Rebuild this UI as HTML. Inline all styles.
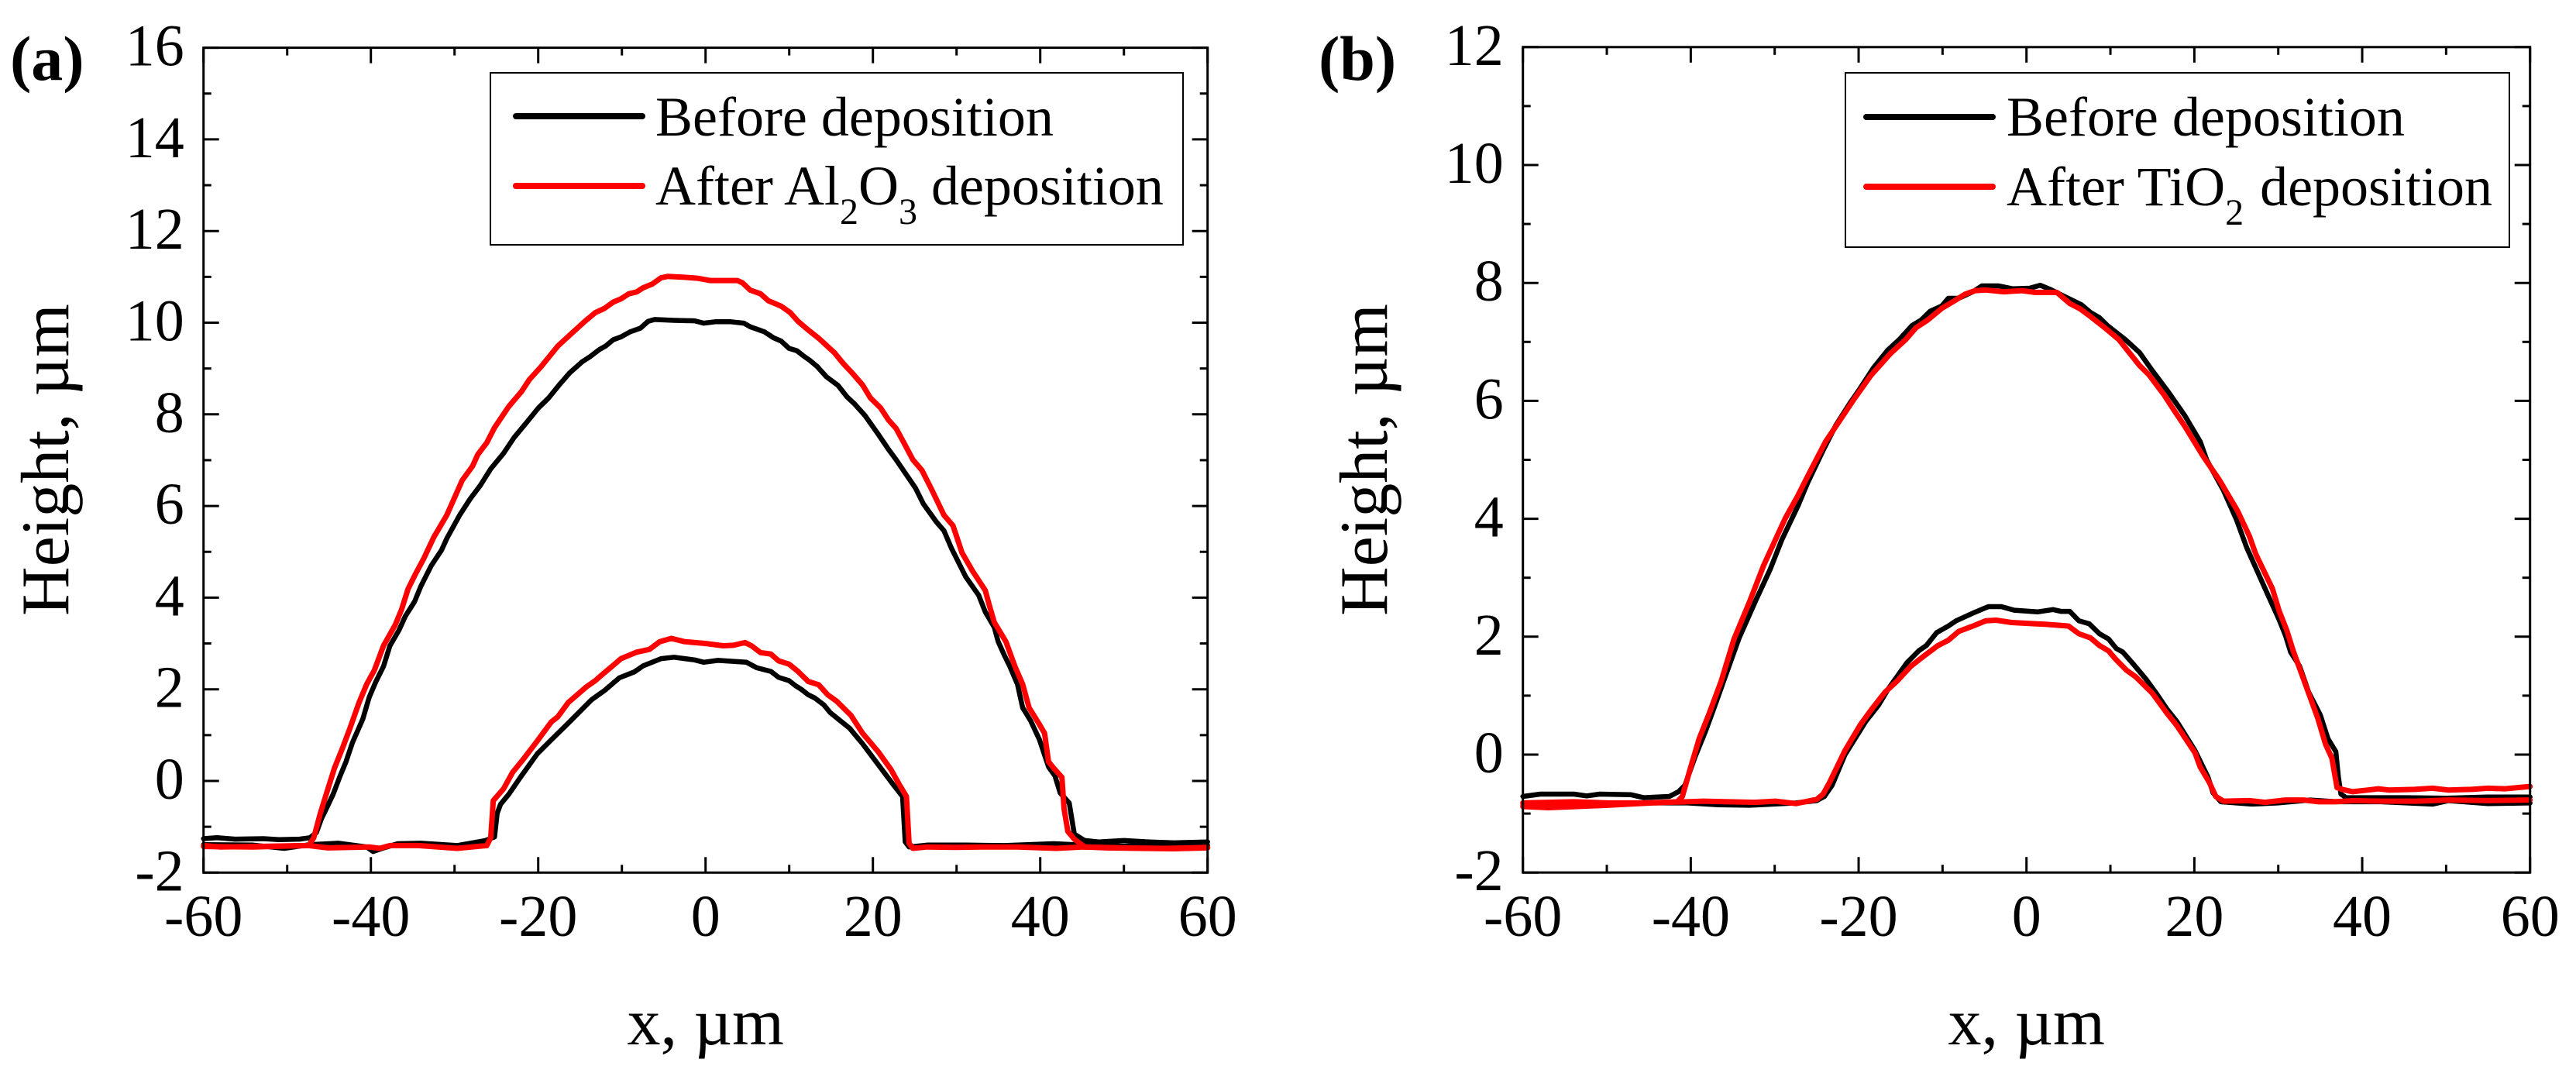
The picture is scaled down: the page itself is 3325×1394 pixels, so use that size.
<!DOCTYPE html>
<html lang="en">
<head>
<meta charset="utf-8">
<title>Height profiles before and after deposition</title>
<style>
html,body{margin:0;padding:0;background:#fff;}
svg{display:block;}
text{font-family:"Liberation Serif","Times New Roman",serif;fill:#000;}
</style>
</head>
<body>
<svg id="figure" xmlns="http://www.w3.org/2000/svg" width="3325" height="1394" viewBox="0 0 3325 1394">
<rect x="0" y="0" width="3325" height="1394" fill="#fff"/>
<text x="13" y="103" font-size="82" font-weight="bold">(a)</text>
<text x="1702" y="103" font-size="82" font-weight="bold">(b)</text>
<g id="panel-a"></g>
<g id="panel-b"></g>

<g>
<rect x="633" y="94" width="894" height="222" fill="#fff" stroke="#000" stroke-width="2"/>
<line x1="666" y1="150" x2="829" y2="150" stroke="#000" stroke-width="8" stroke-linecap="round"/>
<line x1="666" y1="240" x2="829" y2="240" stroke="#f00" stroke-width="8" stroke-linecap="round"/>
<text x="846" y="175" font-size="72">Before deposition</text>
<text x="846" y="264" font-size="72">After Al<tspan font-size="48" dy="25">2</tspan><tspan dy="-25">O</tspan><tspan font-size="48" dy="25">3</tspan><tspan dy="-25"> deposition</tspan></text>
</g>

<g>
<rect x="2382" y="94" width="857" height="225" fill="#fff" stroke="#000" stroke-width="2"/>
<line x1="2409" y1="151" x2="2572" y2="151" stroke="#000" stroke-width="8" stroke-linecap="round"/>
<line x1="2409" y1="241" x2="2572" y2="241" stroke="#f00" stroke-width="8" stroke-linecap="round"/>
<text x="2590" y="175" font-size="72">Before deposition</text>
<text x="2590" y="265" font-size="72">After TiO<tspan font-size="48" dy="25">2</tspan><tspan dy="-25" dx="3"> deposition</tspan></text>
</g>
</svg>

<script>
// Shared axis ticks
const xTickValues = [-60, -40, -20, 0, 20, 40, 60];
const xMinorValues = [-50, -30, -10, 10, 30, 50];
const aYTickValues = [-2, 0, 2, 4, 6, 8, 10, 12, 14, 16];
const aYMinorValues = [-1, 1, 3, 5, 7, 9, 11, 13, 15];
const bYTickValues = [-2, 0, 2, 4, 6, 8, 10, 12];
const bYMinorValues = [-1, 1, 3, 5, 7, 9, 11];

// Panel (a): large mesa, before deposition
const aOuterBeforeX = [-60,-58.4,-56.24,-52.84,-50.99,-48.52,-47.29,-46.52,-45.9,-45.44,-44.51,-43.74,-42.97,-42.19,-40.96,-40.19,-39.42,-38.49,-37.72,-36.64,-35.87,-34.79,-34.02,-32.78,-31.55,-30.93,-29.39,-28.15,-26.92,-25.68,-24.14,-22.9,-21.36,-19.97,-18.74,-17.5,-16.27,-14.73,-13.8,-12.72,-11.95,-11.02,-10.1,-9.02,-7.78,-6.86,-6.08,-3.77,-1.3,-0.22,1.17,3.02,4.57,5.34,7.04,8.12,9.04,9.97,10.9,11.67,12.44,13.36,14.44,15.83,16.91,17.84,19.07,20.62,21.85,22.78,23.7,25.09,26.02,27.56,28.49,29.41,31.11,32.65,33.43,34.51,34.97,35.74,36.36,37.28,37.9,38.83,39.91,40.99,41.76,42.38,43.46,44.07,45.31,47,50,53,56,60];
const aOuterBeforeY = [-1.26,-1.24,-1.27,-1.26,-1.28,-1.27,-1.24,-1.13,-0.82,-0.65,-0.29,0.08,0.42,0.84,1.35,1.83,2.16,2.5,2.95,3.29,3.6,3.91,4.25,4.7,5.04,5.29,5.8,6.15,6.45,6.81,7.15,7.49,7.83,8.14,8.36,8.64,8.9,9.15,9.26,9.41,9.49,9.63,9.69,9.8,9.88,10.03,10.07,10.05,10.04,9.99,10.02,10.02,9.99,9.91,9.8,9.67,9.6,9.44,9.39,9.28,9.18,9.04,8.82,8.63,8.38,8.22,7.97,7.57,7.24,7.01,6.76,6.39,6.05,5.66,5.46,5.07,4.45,4.05,3.69,3.35,3.04,2.73,2.5,2.11,1.6,1.32,0.9,0.31,0.11,-0.26,-0.48,-1.16,-1.3,-1.33,-1.3,-1.33,-1.35,-1.33];

// Panel (a): small mesa, before deposition
const aInnerBeforeX = [-60,-54.08,-50.37,-47.29,-43.89,-40.5,-39.73,-38.65,-36.79,-34.02,-29.69,-26.3,-25.22,-24.91,-24.51,-23.52,-22.13,-20.12,-18.58,-16.42,-13.64,-12.1,-10.3,-8.5,-7.47,-5.31,-3.77,-1.3,-0.22,1.48,4.88,6.11,7.81,8.73,9.97,10.74,11.51,12.28,13.06,14.14,14.91,15.99,17.22,18.77,20.62,22.47,23.55,23.86,24.32,26.48,31.11,35.74,41.6,45.31,50,55,60];
const aInnerBeforeY = [-1.39,-1.4,-1.47,-1.39,-1.36,-1.44,-1.54,-1.47,-1.37,-1.36,-1.41,-1.3,-1.22,-0.71,-0.51,-0.29,0.08,0.59,0.87,1.26,1.77,1.97,2.25,2.38,2.51,2.67,2.7,2.64,2.59,2.63,2.59,2.47,2.39,2.26,2.19,2.08,1.99,1.88,1.81,1.66,1.49,1.33,1.15,0.81,0.36,-0.09,-0.34,-1.33,-1.44,-1.4,-1.4,-1.41,-1.37,-1.4,-1.42,-1.4,-1.41];

// Panel (a): large mesa, after Al2O3
const aOuterAfterX = [-60,-58.09,-54.08,-50.99,-47.44,-46.82,-46.05,-45.13,-44.35,-43.43,-42.5,-41.42,-40.5,-39.57,-38.49,-37.1,-36.33,-35.56,-34.63,-33.71,-32.47,-30.93,-29.08,-27.84,-27.23,-26.15,-25.22,-23.52,-21.98,-21.05,-19.66,-17.66,-15.81,-14.42,-13.18,-12.1,-11.02,-10.1,-9.17,-8.25,-7.47,-6.39,-5.31,-4.54,-2.53,-1,0.55,2.1,3.8,4.41,5.34,6.57,7.5,9.04,10.12,11.05,12.28,13.52,15.37,16.45,17.68,18.77,19.69,20.92,21.85,22.78,23.7,24.78,25.86,27.1,28.49,29.57,30.65,31.88,33.43,33.89,34.51,35.9,36.97,37.9,38.67,39.91,40.52,40.99,41.6,42.59,42.84,43.3,44.07,45.31,48,52,56,60];
const aOuterAfterY = [-1.41,-1.44,-1.43,-1.42,-1.41,-1.24,-0.71,-0.17,0.28,0.7,1.15,1.71,2.11,2.42,2.95,3.4,3.74,4.19,4.53,4.84,5.32,5.8,6.56,6.87,7.12,7.38,7.71,8.17,8.5,8.76,9.04,9.49,9.8,10.03,10.22,10.31,10.45,10.52,10.63,10.67,10.76,10.84,10.98,11.01,10.99,10.97,10.92,10.92,10.92,10.87,10.71,10.63,10.48,10.36,10.22,10.03,9.84,9.66,9.35,9.11,8.87,8.64,8.36,8.14,7.88,7.69,7.38,7.01,6.78,6.33,5.8,5.57,4.98,4.59,4.16,3.85,3.46,3.04,2.5,2.11,1.6,1.23,1.04,0.42,0.28,0.08,-0.6,-1.1,-1.27,-1.44,-1.46,-1.47,-1.48,-1.46];

// Panel (a): small mesa, after Al2O3
const aInnerAfterX = [-60,-54.08,-47.44,-45.13,-40.19,-38.95,-37.72,-34.32,-29.69,-26.15,-25.68,-25.37,-24.14,-23.06,-21.67,-20.12,-18.43,-17.66,-16.42,-14.26,-13.18,-12.1,-11.18,-10.1,-8.25,-6.7,-5.47,-4.08,-2.53,-0.06,2.1,3.33,4.72,5.49,6.57,7.81,8.73,9.97,11.05,12.28,13.52,14.6,15.68,17.38,18.77,20.62,22.16,23.09,24.01,24.32,24.78,26.48,29.88,32.96,37.28,41.92,45.31,50,55,60];
const aInnerAfterY = [-1.43,-1.44,-1.41,-1.46,-1.44,-1.47,-1.41,-1.41,-1.47,-1.41,-1.24,-0.43,-0.17,0.19,0.5,0.87,1.29,1.4,1.71,2.05,2.19,2.36,2.5,2.67,2.81,2.87,3.04,3.11,3.04,3,2.95,2.96,3.02,2.95,2.8,2.77,2.62,2.55,2.39,2.17,2.1,1.88,1.74,1.43,1.04,0.64,0.25,-0.06,-0.34,-1.36,-1.47,-1.44,-1.45,-1.44,-1.44,-1.47,-1.44,-1.46,-1.47,-1.45];

// Panel (b): large mesa, before deposition
const bOuterBeforeX = [-60,-57.93,-53.93,-52.39,-50.85,-47.16,-45.62,-42.54,-41.46,-40.7,-39.46,-38.23,-37,-35.77,-34.23,-32.23,-30.54,-29.16,-27.16,-26.08,-24.23,-22.7,-21,-19.92,-18.23,-16.54,-15.16,-13.62,-12.54,-11.47,-10.08,-9.31,-8.08,-6.39,-5.31,-3.31,-1.62,0.38,1.62,2.86,4.7,6.55,7.63,8.7,9.63,11.78,13.47,15.01,16.86,18.86,20.7,21.47,23.47,25.01,26.24,27.47,28.86,30.09,30.86,31.47,32.55,33.62,35.01,35.93,36.86,37.16,37.47,38.08,40.7,45.32,50,55,60];
const bOuterBeforeY = [-0.71,-0.67,-0.67,-0.7,-0.67,-0.68,-0.73,-0.71,-0.63,-0.52,-0.03,0.4,0.88,1.37,1.98,2.62,3.14,3.64,4.24,4.61,5.16,5.59,5.97,6.19,6.56,6.86,7.04,7.28,7.37,7.52,7.61,7.74,7.74,7.85,7.95,7.95,7.9,7.91,7.96,7.89,7.76,7.63,7.5,7.41,7.28,7.04,6.82,6.51,6.16,5.75,5.31,5,4.48,3.99,3.51,3.12,2.68,2.29,2.02,1.74,1.5,1.06,0.67,0.27,0.05,-0.38,-0.67,-0.73,-0.73,-0.73,-0.74,-0.72,-0.72];

// Panel (b): small mesa, before deposition
const bInnerBeforeX = [-60,-55.46,-50.85,-44.69,-40.39,-36.7,-33,-27.46,-25,-24.08,-23.16,-21.62,-19.16,-17.62,-16.39,-14.23,-12.85,-11.93,-10.7,-9.31,-8.39,-6.39,-4.54,-3,-1.47,1.31,3.16,4.09,5.16,6.24,7.47,8.7,9.78,10.7,11.47,12.7,14.24,15.47,16.7,17.93,20.08,21.62,22.24,23.16,26.86,29.93,33.78,37.01,42.24,48.39,50.24,55,60];
const bInnerBeforeY = [-0.85,-0.86,-0.86,-0.82,-0.82,-0.85,-0.86,-0.82,-0.78,-0.71,-0.52,0,0.56,0.84,1.13,1.56,1.76,1.85,2.07,2.18,2.27,2.4,2.51,2.51,2.45,2.42,2.46,2.43,2.43,2.27,2.22,2.05,1.96,1.8,1.74,1.54,1.28,1.04,0.78,0.56,0.07,-0.38,-0.65,-0.8,-0.84,-0.82,-0.77,-0.8,-0.8,-0.84,-0.78,-0.83,-0.82];

// Panel (b): large mesa, after TiO2
const bOuterAfterX = [-60,-53.93,-49.93,-45.31,-41.62,-41,-40.08,-39,-37.77,-36.39,-34.85,-33,-31.31,-29.77,-28.7,-27.31,-26.08,-23.93,-22.7,-20.54,-18.54,-16.23,-14.39,-13.16,-11.77,-10.08,-8.54,-7.31,-6.08,-4.85,-2.7,-0.54,1,3.63,5.17,6.4,7.63,9.32,11.01,13.47,14.55,16.4,17.63,18.86,21.01,23.01,25.16,26.55,27.32,29.32,30.09,31.01,31.78,33.01,34.7,35.62,36.39,37.01,37.62,38.86,40.7,41.93,43.16,46.24,48.39,50.24,53,55,57,60];
const bOuterAfterY = [-0.82,-0.8,-0.82,-0.82,-0.8,-0.71,-0.25,0.27,0.71,1.24,1.96,2.59,3.21,3.69,4.02,4.37,4.72,5.31,5.57,6.03,6.43,6.8,7.04,7.24,7.37,7.57,7.7,7.81,7.87,7.88,7.85,7.87,7.84,7.84,7.65,7.56,7.43,7.24,7.04,6.6,6.45,6.1,5.83,5.57,5.07,4.65,4.13,3.71,3.4,2.81,2.44,2.11,1.76,1.28,0.62,0.18,-0.06,-0.56,-0.59,-0.63,-0.6,-0.58,-0.6,-0.59,-0.57,-0.6,-0.59,-0.57,-0.58,-0.54];

// Panel (b): small mesa, after TiO2
const bInnerAfterX = [-60,-57,-49.93,-44.69,-38.54,-32.39,-29.93,-27.46,-25,-24.23,-23.46,-21.62,-19.77,-18.39,-16.85,-15.46,-13.77,-12.23,-10.54,-9.31,-8.08,-6.39,-4.85,-3.62,-1.77,1,2.24,5.01,6.24,7.62,8.7,9.78,10.55,11.93,13.01,15.01,16.7,17.93,20.08,20.7,21.78,22.55,23.47,26.55,28.39,30.86,33.01,34.86,36.7,39.16,42.24,46.55,50.24,55,60];
const bInnerAfterY = [-0.88,-0.9,-0.86,-0.82,-0.79,-0.81,-0.79,-0.83,-0.76,-0.67,-0.47,0.07,0.51,0.78,1.06,1.24,1.5,1.67,1.85,1.94,2.09,2.18,2.27,2.28,2.24,2.22,2.21,2.18,2.05,1.98,1.85,1.76,1.63,1.43,1.32,1.04,0.71,0.49,0.03,-0.21,-0.47,-0.71,-0.79,-0.78,-0.81,-0.77,-0.77,-0.8,-0.8,-0.78,-0.79,-0.79,-0.77,-0.78,-0.77];

const SVG_NS = 'http://www.w3.org/2000/svg';

function makeScale(d0, d1, r0, r1) {
  return function (v) { return r0 + (v - d0) * (r1 - r0) / (d1 - d0); };
}

function linePath(xs, ys, sx, sy) {
  let d = '';
  for (let i = 0; i < xs.length; i++) {
    d += (i ? 'L' : 'M') + sx(xs[i]).toFixed(1) + ' ' + sy(ys[i]).toFixed(1);
  }
  return d;
}

function addTick(group, x1, y1, x2, y2, name) {
  const t = document.createElementNS(SVG_NS, 'line');
  t.setAttribute('x1', x1);
  t.setAttribute('y1', y1);
  t.setAttribute('x2', x2);
  t.setAttribute('y2', y2);
  t.setAttribute('stroke', '#000');
  t.setAttribute('stroke-width', '3');
  
  
  group.appendChild(t);
}

function addLabel(group, x, y, str, anchor, size, name) {
  const t = document.createElementNS(SVG_NS, 'text');
  t.setAttribute('x', x);
  t.setAttribute('y', y);
  t.setAttribute('text-anchor', anchor);
  t.setAttribute('font-size', size);
  
  
  t.textContent = str;
  group.appendChild(t);
  return t;
}

function addSeries(group, xs, ys, sx, sy, color, width, name) {
  const p = document.createElementNS(SVG_NS, 'path');
  p.setAttribute('d', linePath(xs, ys, sx, sy));
  p.setAttribute('fill', 'none');
  p.setAttribute('stroke', color);
  p.setAttribute('stroke-width', width);
  p.setAttribute('stroke-linejoin', 'round');
  p.setAttribute('stroke-linecap', 'round');
  
  
  group.appendChild(p);
}

function drawPanel(id, box, yMin, yMax, yTicks, yMinor, series, titleX) {
  const g = document.getElementById(id);
  const sx = makeScale(-60, 60, box.left, box.right);
  const sy = makeScale(yMin, yMax, box.bottom, box.top);
  const major = 20, minor = 10;

  series.forEach(function (s) {
    addSeries(g, s.x, s.y, sx, sy, s.color, s.width, s.name);
  });

  const frame = document.createElementNS(SVG_NS, 'rect');
  frame.setAttribute('x', box.left);
  frame.setAttribute('y', box.top);
  frame.setAttribute('width', box.right - box.left);
  frame.setAttribute('height', box.bottom - box.top);
  frame.setAttribute('fill', 'none');
  frame.setAttribute('stroke', '#000');
  frame.setAttribute('stroke-width', '3');
  
  
  g.appendChild(frame);

  xTickValues.forEach(function (v) {
    const X = sx(v);
    addTick(g, X, box.bottom, X, box.bottom - major, 'x-tick');
    addTick(g, X, box.top, X, box.top + major, 'x-tick-top');
    addLabel(g, X, 1208, String(v), 'middle', 76, 'x-tick-label');
  });
  xMinorValues.forEach(function (v) {
    const X = sx(v);
    addTick(g, X, box.bottom, X, box.bottom - minor, 'x-minor-tick');
    addTick(g, X, box.top, X, box.top + minor, 'x-minor-tick-top');
  });
  yTicks.forEach(function (v) {
    const Y = sy(v);
    addTick(g, box.left, Y, box.left + major, Y, 'y-tick');
    addTick(g, box.right, Y, box.right - major, Y, 'y-tick-right');
    addLabel(g, box.left - 25, Y + 23, String(v), 'end', 76, 'y-tick-label');
  });
  yMinor.forEach(function (v) {
    const Y = sy(v);
    addTick(g, box.left, Y, box.left + minor, Y, 'y-minor-tick');
    addTick(g, box.right, Y, box.right - minor, Y, 'y-minor-tick-right');
  });

  addLabel(g, sx(0), 1348, 'x, µm', 'middle', 86, 'x-axis-title');
  const yt = addLabel(g, 0, 0, 'Height, µm', 'middle', 88, 'y-axis-title');
  yt.setAttribute('transform', 'translate(' + titleX + ',593.5) rotate(-90)');
}

drawPanel('panel-a', {left: 262.7, right: 1558.7, top: 61.6, bottom: 1126.3}, -2, 16, aYTickValues, aYMinorValues, [
  {x: aOuterBeforeX, y: aOuterBeforeY, color: '#000', width: 6.5, name: 'a-large-mesa-before'},
  {x: aInnerBeforeX, y: aInnerBeforeY, color: '#000', width: 6.5, name: 'a-small-mesa-before'},
  {x: aOuterAfterX, y: aOuterAfterY, color: '#f00', width: 7, name: 'a-large-mesa-after'},
  {x: aInnerAfterX, y: aInnerAfterY, color: '#f00', width: 7, name: 'a-small-mesa-after'}
], 88);

drawPanel('panel-b', {left: 1965.7, right: 3265.7, top: 60.8, bottom: 1126.2}, -2, 12, bYTickValues, bYMinorValues, [
  {x: bOuterBeforeX, y: bOuterBeforeY, color: '#000', width: 6.5, name: 'b-large-mesa-before'},
  {x: bInnerBeforeX, y: bInnerBeforeY, color: '#000', width: 6.5, name: 'b-small-mesa-before'},
  {x: bOuterAfterX, y: bOuterAfterY, color: '#f00', width: 7, name: 'b-large-mesa-after'},
  {x: bInnerAfterX, y: bInnerAfterY, color: '#f00', width: 7, name: 'b-small-mesa-after'}
], 1790);
</script>
</body>
</html>
